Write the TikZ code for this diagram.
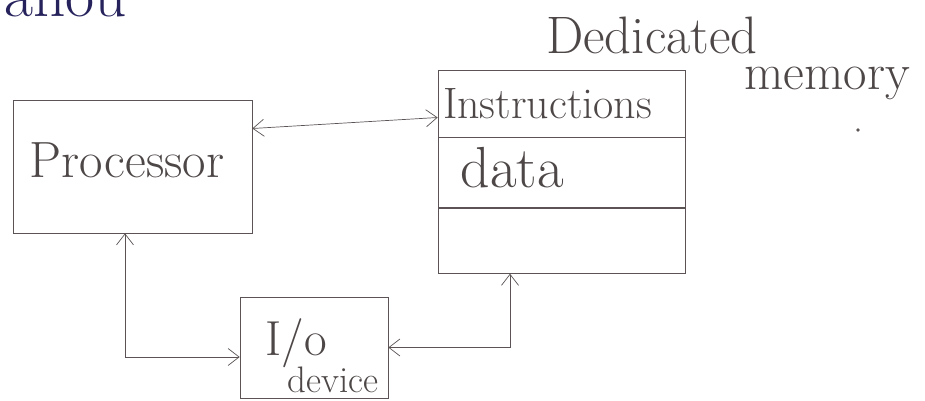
\documentclass[tikz,border=0pt]{standalone}
\usetikzlibrary{positioning}
\usetikzlibrary{arrows,arrows.meta}
\definecolor{pencil}{RGB}{92,84,84}
\definecolor{ink}{RGB}{38,34,92}
\tikzstyle{block}=[draw=pencil,thin,inner sep=0pt]
\tikzstyle{cell}=[draw=pencil,thin,inner sep=0pt,minimum width=4.94cm]
\tikzstyle{edge} = [draw=pencil,thin,<->,>={Straight Barb[length=2.2mm,width=3.4mm]}]
\tikzstyle{hand} = [text=pencil!85!black,inner sep=0pt]

\begin{document}
\begin{tikzpicture}[x=0.02cm,y=-0.02cm]
    \useasboundingbox (0,0) rectangle (925,401);
    % cropped line of writing above the sketch
    \node[anchor=base west, text=ink, inner sep=0pt] (top) at (4,17) {\fontsize{36}{40}\selectfont anou};

    % the three blocks
    \node[block, minimum width=4.78cm, minimum height=2.66cm] (proc) at (132.5,166.5) {};
    \node[cell, minimum height=1.34cm] (instr) at (561.5,103.5) {};
    \node[cell, minimum height=1.40cm, below=0pt of instr] (data) {};
    \node[cell, minimum height=1.30cm, below=0pt of data] (free) {};
    \node[block, minimum width=2.96cm, minimum height=2.02cm] (io) at (314,347.5) {};

    % texts
    \node[hand] (proctext) at (127,160) {\fontsize{29}{32}\selectfont Processor};
    \node[hand, anchor=west] (instrtext) at ([xshift=0.1cm]instr.west) {\fontsize{25}{28}\selectfont Instructions};
    \node[hand, anchor=west] (datatext) at ([xshift=0.45cm,yshift=0.1cm]data.west) {\fontsize{33}{36}\selectfont data};
    \node[hand] (iotext) at (296,343) {\fontsize{28}{30}\selectfont I/o};
    \node[hand] (devtext) at (333,380) {\fontsize{21}{24}\selectfont device};
    \node[hand, anchor=base] (dedi) at (652,54) {\fontsize{30}{34}\selectfont Dedicated};
    \node[hand, anchor=base] (mem) at (827,90) {\fontsize{29}{32}\selectfont memory};
    \fill[pencil] (858,130) circle (1.1pt);

    % connections
    \draw[edge] ([yshift=0.76cm]proc.east) -- ([yshift=-0.28cm]instr.west);
    \draw[edge] ([xshift=-0.15cm]proc.south) |- ([yshift=-0.19cm]io.west);
    \draw[edge] ([xshift=-1.03cm]free.south) |- (io.east);
\end{tikzpicture}
\end{document}
